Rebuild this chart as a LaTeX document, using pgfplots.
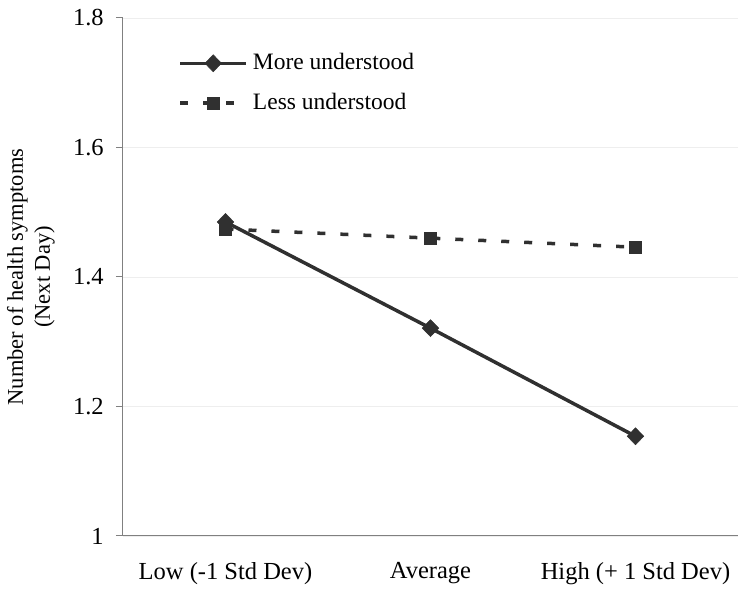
\documentclass[border=0pt]{standalone}
\usepackage{pgfplots}
\pgfplotsset{compat=1.18}
\usepackage{fontspec}
\setmainfont{Liberation Serif}
\definecolor{ln}{HTML}{303030}
\definecolor{ax}{HTML}{808080}
\definecolor{gr}{HTML}{EEEEEE}
\begin{document}
\fontsize{24.5}{29}\selectfont
\begin{tikzpicture}
\path[use as bounding box] (0,0) rectangle (748pt,596pt);
\begin{axis}[
  at={(123pt,60pt)}, anchor=south west,
  scale only axis, width=615pt, height=518pt,
  xmin=-0.5, xmax=2.5, ymin=1, ymax=1.8,
  xtick={0,1,2},
  xticklabels={Low (-1 Std Dev), Average, High (+ 1 Std Dev)},
  ytick={1,1.2,1.4,1.6,1.8},
  yticklabel style={/pgf/number format/fixed,/pgf/number format/precision=1, xshift=-4pt},
  /pgf/number format/assume math mode=true,
  axis x line*=bottom, axis y line*=left,
  axis line style={draw=ax, line width=1pt},
  xtick style={draw=none},
  ytick style={draw=ax, line width=1pt},
  major tick length=7pt, tick align=outside,
  xticklabel style={yshift=-11pt},
  tick label style={font=\fontsize{24.5}{29}\selectfont},
  ymajorgrids, grid style={draw=gr, line width=0.8pt},
  ylabel={Number of health symptoms\\(Next Day)},
  ylabel style={at={(axis description cs:0,0.5)}, anchor=center, xshift=0pt, yshift=92pt, align=center, font=\fontsize{22.5}{27}\selectfont},
  legend style={draw=none, fill=none, at={(axis description cs:0.085,0.94)}, anchor=north west, font=\fontsize{23.5}{28}\selectfont, row sep=16pt, nodes={inner xsep=5pt}},
  legend cell align=left,
  legend image code/.code={\draw[mark repeat=2,mark phase=2,#1] plot coordinates {(0pt,0pt) (33pt,0pt) (66pt,0pt)};},
]
\addplot[ln, line width=3.5pt, mark=diamond*, mark size=8.5pt, mark options={solid, fill=ln, line width=0.5pt, xscale=1.3}] coordinates {(0,1.485) (1,1.321) (2,1.154)};
\addlegendentry{More understood}
\addplot[ln, line width=3.5pt, dash pattern=on 8pt off 15pt, mark=square*, mark size=6pt, mark options={solid, fill=ln, line width=0.5pt}] coordinates {(0,1.474) (1,1.460) (2,1.446)};
\addlegendentry{Less understood}
\end{axis}
\end{tikzpicture}
\end{document}
